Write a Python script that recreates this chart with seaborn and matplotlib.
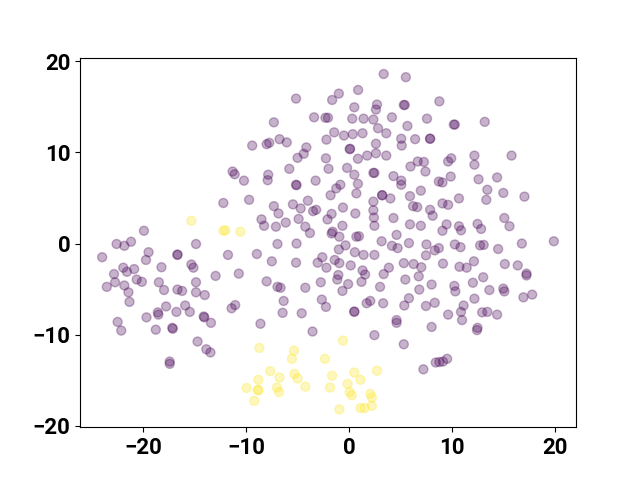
import matplotlib
matplotlib.use("Agg")
import matplotlib.pyplot as plt
import seaborn as sns
import pandas as pd

# t-SNE style embedding, two classes
x_class0 = [
    -10.2, -12.2, -9.7, -19.9, -22.55, -21.8, -21.15, -14.85, -19.45, -19.7,
    -23.95, -16.65, -16.65, -11.75, -15.3, -15.1, -18.2, -21.9, -21.55, -20.85,
    -22.8, -12.95, -10.7, -22.7, -23.5, -21.8, -21.4, -21.3, -20.6, -20.1,
    -18.45, -17.95, -16.65, -16.2, -14.85, -14.85, -14.0, -17.75, -15.9, -16.75,
    -15.45, -18.55, -18.5, -19.65, -14.1, -14.05, -13.4, -11.05, -11.4, -22.45,
    -22.1, -18.75, -17.1, -17.15, -14.7, -13.85, -13.45, -17.4, -17.4,
    3.35, 0.87, -1.0, -1.65, -5.15, 0.5, 2.7, 2.6, -7.3, -3.4,
    -2.3, -2.05, 0.3, 1.4, 2.35, 4.15, 2.8, 3.6, -1.45, -0.5,
    0.35, 1.3, -2.2, 2.6, -6.75, -6.05, -7.75, -8.0, -9.4, -4.15,
    -4.4, -5.0, 0.05, 0.1, 2.6, 1.75, 3.6, 0.85, -2.25, -2.0,
    -5.8, -0.2, 0.5, 2.35, 2.45, 4.3, -11.3, -11.1, -7.85, -7.9,
    -3.25, -5.15, -5.1, 0.85, -0.85, -1.25, -1.8, 0.7, 3.2, 3.2,
    4.0, -4.0, 2.35,
    5.5, 8.75, 5.3, 5.4, 7.55, 5.65, 10.15, 10.25, 13.15, 6.4,
    7.85, 7.85, 5.05, 5.1, 12.15, 15.75, 9.9, 9.6, 6.65, 7.25,
    5.95, 7.4, 12.15, 9.85, 8.7, 9.05, 12.55, 14.35, 5.05, 5.05,
    6.95, 13.4, 14.95, 5.9, 10.65, 13.3, 17.0,
    2.35, 2.4, 2.45, 4.3, -5.45, -4.7, -7.3, -6.85, -8.5, -8.25,
    -7.1, -6.15, -4.9, -4.25, -3.8, -3.5, -3.2, -0.6, -1.7, -2.1,
    0.6, -0.65, -1.6, -1.7, -0.95, 0.7, 0.95, 3.15, 4.6, 4.15,
    4.7, -6.95, -5.1, -0.35, -1.0, 0.55, 1.4, 2.45, -8.95, -7.5,
    -5.15, -2.6, -3.05, -1.4, -0.95, -2.2, 0.15, 1.3, 1.55, 3.85,
    3.35, -1.05, -1.15, 1.2, -0.1, -2.75, -0.65, 3.0, -8.0, -6.95,
    -6.65, -4.25, -2.65, -2.25, -6.35, -6.45, -4.6, 2.05, 1.7, 3.3,
    0.5, 0.5, 4.6, 4.6, -8.6, -3.55, 2.45,
    9.05, 9.6, 6.2, 6.6, 7.85, 8.1, 15.05, 15.55, 5.9, 6.95,
    9.45, 9.05, 10.65, 10.85, 12.45, 12.8, 16.75, 19.85, 5.8, 7.5,
    8.7, 8.3, 7.45, 10.25, 10.8, 12.7, 13.05, 14.45, 12.1, 9.1,
    5.3, 6.25, 7.0, 10.7, 11.4, 13.0, 15.1, 16.35, 17.2, 17.2,
    5.45, 6.75, 12.0, 8.0, 10.2, 10.3, 6.8, 13.6, 14.95, 15.05,
    17.75, 16.9, 12.15, 5.8, 5.35, 7.45, 8.3, 11.1, 10.85, 10.95,
    9.6, 12.9, 13.4, 14.35, 8.0, 12.45, 12.4, 5.3, 9.5, 9.1,
    8.75, 8.4, 7.2,
]
y_class0 = [
    6.9, 4.45, 4.8, 1.4, -0.05, -0.25, 0.2, -0.05, -0.95, -1.8,
    -1.5, -1.2, -1.25, -1.25, -2.3, -2.65, -2.6, -2.65, -3.1, -2.8,
    -3.35, -3.55, -3.3, -4.25, -4.75, -4.6, -5.35, -6.4, -3.95, -4.2,
    -4.25, -5.1, -5.05, -5.2, -4.25, -5.35, -5.65, -6.9, -6.8, -7.5,
    -7.5, -7.55, -7.8, -8.1, -8.0, -8.1, -8.7, -6.75, -7.1, -8.6,
    -9.55, -9.45, -9.35, -9.25, -10.75, -11.6, -11.95, -12.95, -13.2,
    18.6, 16.85, 16.45, 15.75, 15.9, 14.95, 15.25, 14.7, 13.3, 13.85,
    13.8, 13.8, 13.7, 13.7, 13.6, 13.85, 12.65, 12.1, 12.2, 11.85,
    12.0, 12.1, 11.4, 10.95, 11.45, 11.1, 11.05, 10.9, 10.75, 10.55,
    9.85, 9.4, 10.35, 10.4, 9.9, 9.65, 9.65, 9.3, 9.35, 8.2,
    8.2, 8.3, 7.55, 7.75, 7.75, 7.4, 7.9, 7.6, 7.55, 6.95,
    6.9, 6.45, 6.4, 6.55, 6.45, 6.05, 5.3, 5.5, 5.3, 5.3,
    4.95, 4.7, 4.6,
    18.25, 15.6, 15.2, 15.2, 13.7, 12.9, 13.05, 13.05, 13.35, 11.45,
    11.5, 11.5, 11.5, 10.75, 9.65, 9.65, 9.35, 9.0, 9.0, 8.95,
    8.45, 7.9, 8.65, 7.35, 6.8, 6.7, 7.05, 7.25, 6.9, 6.45,
    5.8, 5.9, 5.55, 5.2, 4.95, 4.8, 5.15,
    3.65, 2.85, 1.95, 2.8, 4.3, 3.85, 4.1, 3.3, 2.65, 1.95,
    1.85, 2.3, 2.7, 1.85, 1.15, 3.55, 3.7, 3.95, 3.25, 2.65,
    3.3, 1.95, 1.3, 1.1, 0.75, 0.75, 0.8, 0.25, 0.95, -0.25,
    -0.5, -0.05, 0.0, -0.2, -0.65, -0.95, -1.25, -1.25, -1.15, -1.95,
    -2.1, -1.5, -2.1, -1.8, -2.15, -2.65, -2.4, -2.95, -3.4, -2.65,
    -3.35, -3.45, -3.95, -4.2, -4.45, -4.25, -5.2, -4.75, -4.15, -4.75,
    -4.85, -4.85, -6.15, -6.95, -6.3, -7.6, -7.65, -6.3, -6.55, -6.55,
    -7.45, -7.5, -8.4, -8.7, -8.8, -9.65, -10.05,
    4.4, 4.25, 4.1, 4.0, 3.7, 3.05, 2.8, 1.9, 2.1, 1.95,
    2.1, 1.4, 1.9, 1.45, 2.15, 1.6, 0.0, 0.25, 0.05, -0.1,
    -0.5, -0.75, -1.3, -0.1, -0.4, -0.2, -0.15, -0.6, -1.95, -2.2,
    -2.15, -2.25, -2.6, -2.55, -2.65, -3.7, -2.25, -2.4, -3.3, -3.5,
    -3.95, -3.6, -4.3, -4.5, -4.65, -5.25, -5.05, -5.1, -4.95, -5.25,
    -5.6, -5.9, -6.05, -6.0, -6.8, -6.85, -6.5, -6.8, -7.5, -8.4,
    -7.8, -7.55, -7.5, -7.8, -9.15, -9.25, -9.5, -11.05, -12.65, -12.95,
    -13.0, -13.05, -13.8,
]
x_class1 = [
    -15.3, -12.2, -12.0, -10.55, -8.7, -5.35, -5.55, -0.6, -2.35, -7.65,
    -6.75, -8.8, -5.3, -5.0, -1.65, 0.5, 2.7, 1.1, -0.15, -9.95,
    -8.85, -8.8, -7.0, -6.8, -4.25, -1.85, 0.05, 0.25, 2.05, 2.2,
    -9.2, -0.95, 1.1, 1.5, 2.2,
]
y_class1 = [
    2.5, 1.4, 1.45, 1.3, -11.45, -11.75, -12.65, -10.65, -12.65, -14.0,
    -14.7, -14.95, -14.3, -14.8, -14.5, -14.15, -13.95, -14.95, -15.4, -15.85,
    -16.05, -16.1, -15.8, -16.3, -15.7, -15.8, -16.3, -16.65, -16.5, -16.9,
    -17.25, -18.2, -18.05, -18.05, -17.8,
]

df = pd.DataFrame({
    "x": x_class0 + x_class1,
    "y": y_class0 + y_class1,
    "label": [0] * len(x_class0) + [1] * len(x_class1),
})

fig, ax = plt.subplots(figsize=(6.4, 4.8), dpi=100)
sns.scatterplot(data=df, x="x", y="y", hue="label", palette={0: "#440154", 1: "#fde725"},
                s=42, alpha=0.3, edgecolor="face", linewidth=1.0, legend=False, ax=ax)
ax.set_xlim(-26.1, 22.0)
ax.set_ylim(-20.15, 20.4)
ax.set_xlabel("")
ax.set_ylabel("")
ax.set_xticks([-20, -10, 0, 10, 20])
ax.set_yticks([-20, -10, 0, 10, 20])
for lab in ax.get_xticklabels() + ax.get_yticklabels():
    lab.set_fontfamily("Roboto")
    lab.set_fontweight("bold")
    lab.set_fontsize(16)

fig.savefig("out.png", dpi=100)
